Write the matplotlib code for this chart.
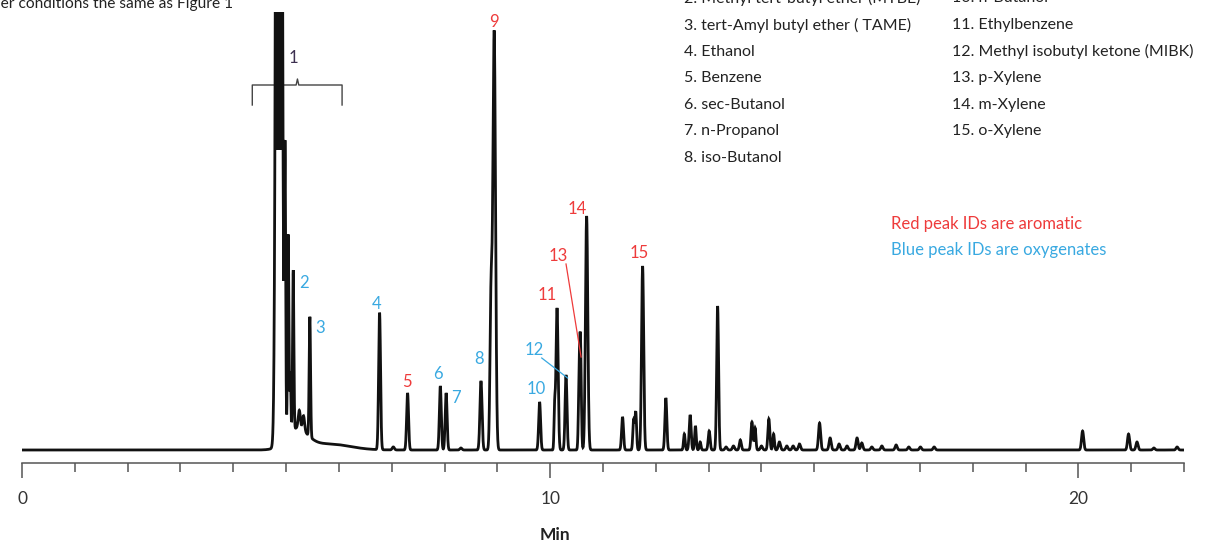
### imports
import numpy as np
import matplotlib
matplotlib.use('Agg')
from matplotlib import pyplot as plt
from matplotlib.ticker import MultipleLocator

### data (signal in arbitrary detector units above baseline)
# peak table: retention time (min), height, width (sigma, min)
peak_rt = [
    4.865, 4.98, 5.04, 5.08, 5.135, 5.25, 5.33, 5.45, 5.2, 5.8,
    6.77, 7.03, 7.30, 7.92, 8.03, 8.31, 8.69, 8.88, 8.94,
    9.80, 10.085, 10.13, 10.30, 10.55, 10.575, 10.69,
    11.37, 11.58, 11.62, 11.75, 12.19, 12.54, 12.65, 12.75, 12.84, 13.01, 13.17,
    13.33, 13.47, 13.60, 13.82, 13.88, 14.0, 14.14, 14.23, 14.34, 14.48, 14.60, 14.72,
    15.10, 15.30, 15.47, 15.62, 15.81, 15.90, 16.09, 16.28, 16.55, 16.79, 17.01, 17.27,
    20.08, 20.95, 21.11, 21.43, 21.87,
]
peak_height = [
    3000, 280, 200, 60, 160, 18, 15, 120, 20, 6,
    137, 3, 57, 64, 57, 2, 69, 150, 418,
    48, 40, 142, 75, 70, 94, 234,
    33, 30, 38, 184, 52, 16, 35, 24, 8, 19, 144,
    3, 4, 10, 28, 22, 4, 31, 16, 8, 4, 4, 6,
    27, 12, 6, 4, 12, 7, 3, 4, 5, 3, 3, 3,
    19, 16, 8, 2, 3,
]
peak_sigma = [
    0.036, 0.012, 0.012, 0.01, 0.012, 0.02, 0.02, 0.013, 0.2, 0.4,
    0.018, 0.02, 0.018, 0.018, 0.018, 0.02, 0.02, 0.02, 0.025,
    0.018, 0.012, 0.02, 0.018, 0.015, 0.015, 0.022,
    0.018, 0.015, 0.015, 0.02, 0.018, 0.015, 0.018, 0.015, 0.015, 0.018, 0.018,
    0.02, 0.02, 0.018, 0.018, 0.015, 0.02, 0.018, 0.015, 0.02, 0.02, 0.02, 0.02,
    0.02, 0.02, 0.02, 0.02, 0.02, 0.02, 0.02, 0.02, 0.02, 0.02, 0.02, 0.02,
    0.02, 0.02, 0.02, 0.02, 0.02,
]

# peak ID labels: text, x (min), y (signal), colour group
label_ids = ['2', '3', '4', '5', '6', '7', '8', '9', '10', '11', '12', '13', '14', '15']
label_x = [5.33, 5.64, 6.72, 7.29, 7.87, 8.22, 8.66, 8.94, 9.73, 9.94, 9.70, 10.15, 10.52, 11.69]
label_y = [167, 122, 146, 68, 76, 52, 91, 428, 61, 155, 100, 194, 241, 197]
label_group = ['o', 'o', 'o', 'a', 'o', 'o', 'o', 'a', 'o', 'a', 'o', 'a', 'a', 'a']

legend_col1 = ['2. Methyl tert-butyl ether (MTBE)', '3. tert-Amyl butyl ether ( TAME)', '4. Ethanol',
               '5. Benzene', '6. sec-Butanol', '7. n-Propanol', '8. iso-Butanol']
legend_col2 = ['10. n-Butanol', '11. Ethylbenzene', '12. Methyl isobutyl ketone (MIBK)',
               '13. p-Xylene', '14. m-Xylene', '15. o-Xylene']

### styling
RED = '#ee3b3b'
BLUE = '#39a9e1'
W, H = 1210, 543
plt.rcParams['font.family'] = ['Lato', 'DejaVu Sans']

def fx(px):
    return px / W

def fy(py):
    return 1 - py / H

### trace
t = np.linspace(0, 22, 11001)
signal = np.zeros_like(t)
for rt, h, s in zip(peak_rt, peak_height, peak_sigma):
    signal += h * np.exp(-0.5 * ((t - rt) / s) ** 2)

fig = plt.figure(figsize=(W / 100, H / 100), dpi=100)
ax = fig.add_axes([fx(22), fy(463), fx(1184) - fx(22), fy(12) - fy(463)])
ax.plot(t, signal, color='#111111', lw=2.0, solid_joinstyle='miter', zorder=3)
# the unresolved top of peak 1 shows as a solid black band
band = (t > 4.78) & (t < 4.96)
ax.fill_between(t[band], 300, signal[band], where=signal[band] > 300,
                color='#111111', lw=0, zorder=3)
ax.set_xlim(0, 22)
ax.set_ylim(-13, 438)

for side in ['left', 'top', 'right']:
    ax.spines[side].set_visible(False)
ax.spines['bottom'].set_color('#555555')
ax.spines['bottom'].set_linewidth(1.1)
ax.set_yticks([])
ax.xaxis.set_major_locator(MultipleLocator(10))
ax.xaxis.set_minor_locator(MultipleLocator(1))
ax.tick_params(axis='x', which='major', length=10.8, width=1.1, color='#555555',
               labelsize=12.5, labelcolor='#333333', pad=9)
ax.tick_params(axis='x', which='minor', length=6.5, width=1.1, color='#555555')

# bracket over peak 1
bx = [4.36, 4.36, 5.19, 5.215, 5.24, 6.06, 6.06]
by = [345, 365, 365, 371, 365, 365, 345]
ax.plot(bx, by, color='#444444', lw=1.0, zorder=2, clip_on=False)
ax.text(5.135, 392, '1', color='#3d3050', fontsize=12, ha='center', va='center')

# peak ID labels
for s, x, y, g in zip(label_ids, label_x, label_y, label_group):
    ax.text(x, y, s, color=RED if g == 'a' else BLUE, fontsize=12, ha='center', va='center')

# leader lines for 12 and 13
ax.plot([9.84, 10.33], [92, 72], color=BLUE, lw=0.9, zorder=4)
ax.plot([10.30, 10.585], [186, 93], color=RED, lw=0.9, zorder=4)

# notes
ax.text(fx(891), fy(224), 'Red peak IDs are aromatic', transform=fig.transFigure,
        color=RED, fontsize=12, ha='left', va='center')
ax.text(fx(891), fy(250), 'Blue peak IDs are oxygenates', transform=fig.transFigure,
        color=BLUE, fontsize=12, ha='left', va='center')

for i, s in enumerate(legend_col1):
    fig.text(fx(684), fy(-1.6 + 26.6 * i), s, color='#222222', fontsize=11.5, ha='left', va='center')
for i, s in enumerate(legend_col2):
    fig.text(fx(952), fy(-1.6 + 26.6 * i), s, color='#222222', fontsize=11.5, ha='left', va='center')

fig.text(fx(233), fy(4), 'Other conditions the same as Figure 1', color='#222222',
         fontsize=11.2, ha='right', va='center')
fig.text(fx(555), fy(535), 'Min', color='#222222', fontsize=12.5, fontweight='bold',
         ha='center', va='center')

fig.savefig('out.png', dpi=100)
